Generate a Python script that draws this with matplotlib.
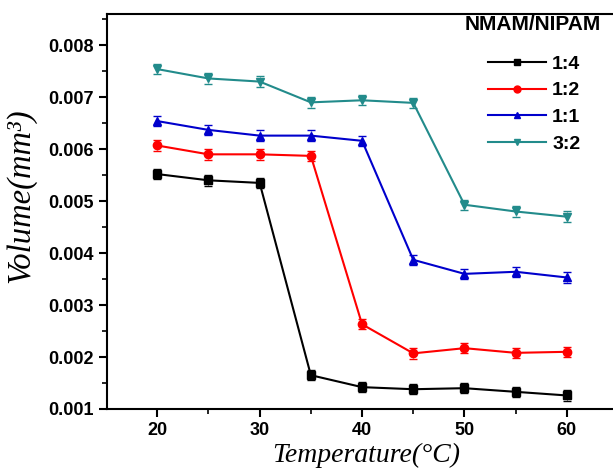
import matplotlib
matplotlib.use("Agg")
import matplotlib.pyplot as plt
from matplotlib.lines import Line2D
from matplotlib.ticker import MultipleLocator

temp = [20, 25, 30, 35, 40, 45, 50, 55, 60]
r14 = [0.00552, 0.00540, 0.00535, 0.00165, 0.00142, 0.00138, 0.00140, 0.00133, 0.00126]
r12 = [0.00607, 0.00590, 0.00590, 0.00587, 0.00263, 0.00207, 0.00217, 0.00208, 0.00210]
r11 = [0.00654, 0.00637, 0.00626, 0.00626, 0.00616, 0.00387, 0.00360, 0.00364, 0.00353]
r32 = [0.00754, 0.00736, 0.00730, 0.00690, 0.00694, 0.00689, 0.00493, 0.00480, 0.00470]
err = 0.0001
labels = ["1:4", "1:2", "1:1", "3:2"]
colors = ["black", "red", "#0000cc", "#228b8b"]
markers = ["s", "o", "^", "v"]

fig = plt.figure(figsize=(6.13, 4.75), dpi=100)
ax = fig.add_axes([0.1746, 0.139, 0.8254, 0.8315])

handles = []
for y, lab, c, m in zip([r14, r12, r11, r32], labels, colors, markers):
    ax.errorbar(temp, y, yerr=err, color=c, ecolor=c, elinewidth=0.8, capsize=3,
                marker=m, markersize=6, linewidth=1.5)
    handles.append(Line2D([], [], color=c, marker=m, markersize=5, linewidth=1.5, label=lab))
# error bars are drawn lighter in the original
for coll in ax.collections:
    coll.set_alpha(0.45)

ax.set_xlim(15.1, 64.5)
ax.set_ylim(0.001, 0.0086)
ax.xaxis.set_major_locator(MultipleLocator(10))
ax.xaxis.set_minor_locator(MultipleLocator(5))
ax.yaxis.set_major_locator(MultipleLocator(0.001))
ax.yaxis.set_minor_locator(MultipleLocator(0.0005))
ax.tick_params(which="major", direction="out", length=6, width=1.5)
ax.tick_params(which="minor", direction="out", length=3.5, width=1.2)
for s in ["left", "bottom", "top"]:
    ax.spines[s].set_linewidth(1.5)
ax.spines["right"].set_visible(False)
ax.yaxis.set_major_formatter(plt.FuncFormatter(lambda v, p: f"{v:.3f}"))

for t in ax.get_xticklabels() + ax.get_yticklabels():
    t.set_fontfamily("Liberation Sans")
    t.set_fontweight("bold")
    t.set_fontsize(13)

ax.set_xlabel("Temperature(°C)", fontfamily="Liberation Serif", fontstyle="italic",
              fontsize=20)
ax.xaxis.set_label_coords(0.512, -0.085)
ax.set_ylabel("Volume(mm³)", fontfamily="Liberation Serif", fontstyle="italic",
              fontsize=23.5)
ax.yaxis.set_label_coords(-0.14, 0.54)

# legend title drawn separately so it can stick out to the right
fig.text(533 / 613, 1 - 25 / 475, "NMAM/NIPAM", ha="center", va="center",
         fontfamily="Liberation Sans", fontweight="bold", fontsize=15)

leg = ax.legend(handles=handles, loc="upper left", frameon=False,
                prop={"family": "Liberation Sans", "weight": "bold", "size": 14},
                handlelength=3.0, labelspacing=0.47, handletextpad=0.3,
                borderpad=0, borderaxespad=0,
                bbox_to_anchor=(488 / 613, 1 - 55 / 475), bbox_transform=fig.transFigure)

fig.savefig("out.png", dpi=100)
